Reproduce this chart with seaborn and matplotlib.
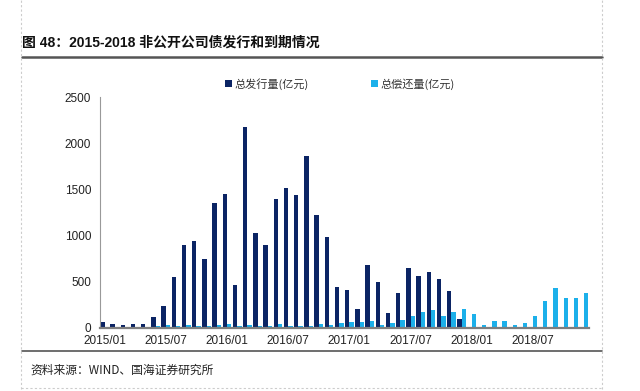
import pandas as pd
import matplotlib
matplotlib.use('Agg')
import matplotlib.pyplot as plt
import seaborn as sns
from matplotlib.lines import Line2D

# monthly categories 2015/01 .. 2018/12
months = [p.strftime('%Y/%m') for p in pd.period_range('2015-01', '2018-12', freq='M')]

# 总发行量(亿元)
issue = [65, 45, 30, 40, 40, 118, 235, 550, 900, 938, 745, 1348,
         1445, 462, 2172, 1028, 899, 1401, 1512, 1435, 1860, 1222, 983, 448,
         408, 210, 686, 495, 160, 378, 648, 566, 603, 530, 397, 94,
         10, 0, 0, 0, 0, 0, 15, 0, 0, 0, 0, 0]

# 总偿还量(亿元)
repay = [10, 12, 8, 12, 10, 20, 28, 22, 30, 20, 25, 35,
         40, 25, 32, 22, 27, 40, 22, 22, 24, 43, 33, 57,
         68, 61, 72, 32, 54, 87, 126, 170, 195, 133, 170, 203,
         148, 29, 76, 74, 36, 57, 133, 289, 430, 328, 328, 376]

series_names = ['总发行量(亿元)', '总偿还量(亿元)']
colors = ['#0b2464', '#1cb0ea']
tick_labels = ['2015/01', '2015/07', '2016/01', '2016/07',
               '2017/01', '2017/07', '2018/01', '2018/07']
yticks = [0, 500, 1000, 1500, 2000, 2500]

df = pd.DataFrame({
    'month': months * 2,
    'value': issue + repay,
    'series': [series_names[0]] * len(months) + [series_names[1]] * len(months),
})

sns.set_style('white')
plt.rcParams['font.family'] = ['Liberation Sans', 'Noto Sans CJK SC', 'DejaVu Sans']

fig = plt.figure(figsize=(6.4, 3.91), dpi=100)
ax = fig.add_axes([99.5 / 640, 63 / 391, 489.5 / 640, 231 / 391])

sns.barplot(data=df, x='month', y='value', hue='series', order=months,
            hue_order=series_names, palette=colors, width=0.86,
            saturation=1, linewidth=0, edgecolor='none', ax=ax)

ax.set_xlim(-0.5, len(months) - 0.5)
ax.set_ylim(0, 2500)
ax.set_yticks(yticks)
ax.set_yticklabels([str(v) for v in yticks], fontsize=8.5, color='#222222')
ax.set_xticks([months.index(t) for t in tick_labels])
ax.set_xticklabels(tick_labels, fontsize=8.5, color='#222222')
ax.set_xlabel('')
ax.set_ylabel('')
ax.tick_params(axis='y', length=4, width=0.8, color='#888888', direction='out', pad=2)
ax.tick_params(axis='x', length=0, pad=5)
for side in ['top', 'right']:
    ax.spines[side].set_visible(False)
ax.spines['left'].set_color('#999999')
ax.spines['left'].set_linewidth(0.8)
ax.spines['bottom'].set_color('#7f7f7f')
ax.spines['bottom'].set_linewidth(1.6)

handles, labels = ax.get_legend_handles_labels()
ax.legend(handles, labels, loc='center', bbox_to_anchor=(340 / 640, 1 - 84 / 391),
          bbox_transform=fig.transFigure, ncol=2, frameon=False,
          handlelength=0.6, handleheight=0.6, handletextpad=0.25,
          columnspacing=5.6, prop={'family': ['Noto Sans CJK SC'], 'size': 8})
for t in ax.get_legend().get_texts():
    t.set_color('#333333')

# title, rules and source
fig.text(22 / 640, 1 - 43 / 391, '图 48：2015-2018 非公开公司债发行和到期情况',
         fontsize=10, fontweight='bold', va='center', ha='left', color='#111111',
         family=['Liberation Sans', 'Noto Sans CJK SC'])
fig.add_artist(Line2D([22 / 640, 602 / 640], [1 - 57 / 391] * 2, color='#555555', lw=1.8))
fig.add_artist(Line2D([22 / 640, 602 / 640], [1 - 351 / 391] * 2, color='#555555', lw=1.2))
fig.text(30 / 640, 1 - 370 / 391, '资料来源：WIND、国海证券研究所', fontsize=8.5,
         va='center', ha='left', color='#222222',
         family=['Noto Sans CJK SC', 'Liberation Sans'])

# dashed page border
for xb in [21 / 640, 602 / 640]:
    fig.add_artist(Line2D([xb, xb], [0.005, 1], color='#cccccc', lw=0.8, ls=(0, (2, 2))))
fig.add_artist(Line2D([21 / 640, 602 / 640], [1 - 388 / 391] * 2, color='#cccccc',
                      lw=0.8, ls=(0, (2, 2))))

fig.savefig('out.png', dpi=100)
